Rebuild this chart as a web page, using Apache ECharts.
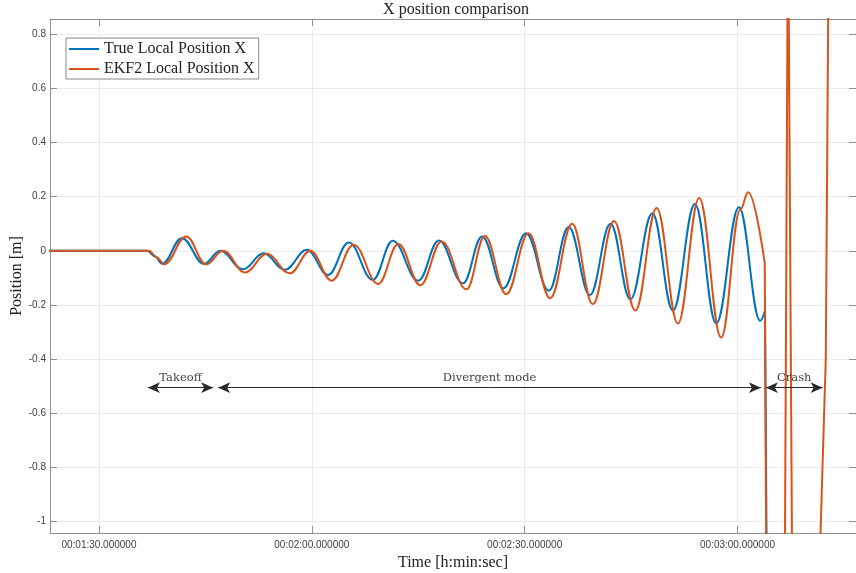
<!DOCTYPE html>
<html><head><meta charset="utf-8">
<script src="https://cdn.jsdelivr.net/npm/echarts@6/dist/echarts.min.js"></script>
<style>html,body{margin:0;padding:0;background:#fff}#c{width:856px;height:573px}</style>
</head><body><div id="c"></div>
<script>
// ---- data (time in seconds, position in m) ----
const xTicks = [90, 120, 150, 180];
const yTicks = [-1, -0.8, -0.6, -0.4, -0.2, 0, 0.2, 0.4, 0.6, 0.8];

const trueT = [83, 96.8, 97.9, 98.9, 101.7, 104.8, 107.1, 110.3, 113.2, 116.2, 119.3, 122.3, 125.2, 128.6, 131.4, 135.0, 137.9, 141.3, 144.0, 147.0, 150.2, 153.4, 156.2, 159.2, 162.1, 164.9, 168.0, 170.9, 174.0, 177.0, 180.2, 183.2, 183.87];
const trueX = [0, 0, -0.02, -0.048, 0.047, -0.048, 0.0, -0.068, -0.009, -0.07, 0.004, -0.089, 0.031, -0.107, 0.037, -0.11, 0.038, -0.12, 0.053, -0.138, 0.065, -0.147, 0.088, -0.163, 0.1, -0.179, 0.139, -0.22, 0.173, -0.268, 0.161, -0.258, -0.22];
const trueCrashT = [183.87, 184.15];
const trueCrashX = [-0.22, -1.3];

const ekfT = [83, 97.05, 98.2, 99.2, 102.3, 105.1, 107.5, 110.6, 113.65, 116.9, 119.8, 122.8, 125.9, 129.35, 132.2, 135.3, 138.3, 141.8, 144.4, 147.4, 150.55, 153.6, 156.7, 159.6, 162.6, 165.6, 168.6, 171.6, 174.6, 177.7, 180.4, 181.5, 183.84];
const ekfX = [0, 0, -0.025, -0.05, 0.053, -0.05, 0.0, -0.08, -0.011, -0.083, 0.0, -0.11, 0.023, -0.122, 0.025, -0.127, 0.035, -0.142, 0.055, -0.16, 0.065, -0.175, 0.1, -0.197, 0.11, -0.22, 0.158, -0.268, 0.195, -0.32, 0.152, 0.216, -0.045];
const ekfCrashT = [183.84, 184.08, 186.65, 187.12, 187.4, 187.73, 191.4, 192.44, 192.78, 192.9, 197];
const ekfCrashX = [-0.045, -1.3, -1.3, 1.3, 1.3, -1.3, -1.3, -0.4, 0.856, 1.3, 1.3];

const phaseNames = ['Takeoff', 'Divergent mode', 'Crash'];
const phaseStart = [96.9, 106.8, 184.0];
const phaseEnd = [106.1, 183.3, 192.0];
const phaseLevel = -0.505;

// ---- helpers ----
const zip = (a, b) => a.map((v, i) => [v, b[i]]);
const pad = n => String(n).padStart(2, '0');
function fmtTime(v) {
  const s = Math.round(v);
  return pad(Math.floor(s / 3600)) + ':' + pad(Math.floor((s % 3600) / 60)) + ':' + pad(s % 60) + '.000000';
}
const fmtY = v => String(Number(v.toFixed(2)));

const BLUE = '#0072BD', ORANGE = '#D95319';
const AX = '#8f8f8f';
const SERIF = '"Liberation Serif", "Times New Roman", serif';
const SANS = '"Liberation Sans", Arial, sans-serif';

const xMin = 83.1, xMax = 196.7, yMin = -1.0416, yMax = 0.856;

const chart = echarts.init(document.getElementById('c'), null, {renderer: 'canvas'});
chart.setOption({
  animation: false,
  backgroundColor: '#fff',
  grid: {left: 50, top: 19, right: 0, bottom: 40, containLabel: false, outerBoundsMode: 'none'},
  graphic: [
    {type: 'text', x: 456, y: 10, style: {text: 'X position comparison', font: '16px ' + SERIF, fill: '#222', textAlign: 'center', textVerticalAlign: 'middle'}}
  ],
  legend: {
    data: ['True Local Position X', 'EKF2 Local Position X'],
    orient: 'vertical', left: 66, top: 38,
    icon: 'rect', itemWidth: 30, itemHeight: 2, itemGap: 4, itemTextGap: 4,
    padding: [3, 4, 2, 3],
    backgroundColor: '#fff', borderColor: '#8a8a8a', borderWidth: 1,
    textStyle: {fontFamily: SERIF, fontSize: 16, color: '#222'}
  },
  xAxis: [{
    type: 'value', min: xMin, max: xMax,
    name: 'Time [h:min:sec]', nameLocation: 'middle', nameGap: 20,
    nameTextStyle: {fontFamily: SERIF, fontSize: 16, color: '#222'},
    axisLine: {show: true, onZero: false, lineStyle: {color: AX, width: 1}},
    axisTick: {show: true, inside: true, length: 7, customValues: xTicks, lineStyle: {color: AX}},
    axisLabel: {show: true, customValues: xTicks, formatter: fmtTime, fontFamily: SANS, fontSize: 10, color: '#404040', margin: 7},
    splitLine: {show: true, lineStyle: {color: '#ececec', width: 1}}
  }, {
    type: 'value', min: xMin, max: xMax, position: 'top',
    axisLine: {show: true, onZero: false, lineStyle: {color: AX, width: 1}},
    axisTick: {show: true, inside: true, length: 7, customValues: xTicks, lineStyle: {color: AX}},
    axisLabel: {show: false}, splitLine: {show: false}
  }],
  yAxis: [{
    type: 'value', min: yMin, max: yMax,
    name: 'Position [m]', nameLocation: 'middle', nameGap: 25, nameMoveOverlap: false,
    nameTextStyle: {fontFamily: SERIF, fontSize: 16, color: '#222'},
    axisLine: {show: true, onZero: false, lineStyle: {color: AX, width: 1}},
    axisTick: {show: true, inside: true, length: 7, customValues: yTicks, lineStyle: {color: AX}},
    axisLabel: {show: true, customValues: yTicks, formatter: fmtY, fontFamily: SANS, fontSize: 10, color: '#404040', margin: 4},
    splitLine: {show: true, lineStyle: {color: '#ececec', width: 1}}
  }, {
    type: 'value', min: yMin, max: yMax, position: 'right',
    axisLine: {show: true, onZero: false, lineStyle: {color: AX, width: 1}},
    axisTick: {show: true, inside: true, length: 7, customValues: yTicks, lineStyle: {color: AX}},
    axisLabel: {show: false}, splitLine: {show: false}
  }],
  series: [
    {
      name: 'True Local Position X', type: 'line', data: zip(trueT, trueX),
      smooth: 0.4, smoothMonotone: 'x', showSymbol: false, symbol: 'none',
      lineStyle: {color: BLUE, width: 2}, itemStyle: {color: BLUE}, z: 2,
      markLine: {
        silent: true, symbol: ['arrow', 'arrow'], symbolSize: [8, 12],
        lineStyle: {color: '#2a2a2a', width: 1, type: 'solid'},
        label: {show: true, position: 'middle', formatter: '{b}', fontFamily: '"DejaVu Serif", serif', fontSize: 11.5, color: '#444', distance: 4},
        data: phaseNames.map((n, i) => [{name: n, coord: [phaseStart[i], phaseLevel]}, {coord: [phaseEnd[i], phaseLevel]}])
      }
    },
    {
      name: 'True Local Position X', type: 'line', data: zip(trueCrashT, trueCrashX),
      smooth: false, showSymbol: false, symbol: 'none',
      lineStyle: {color: BLUE, width: 2}, itemStyle: {color: BLUE}, z: 2
    },
    {
      name: 'EKF2 Local Position X', type: 'line', data: zip(ekfT, ekfX),
      smooth: 0.4, smoothMonotone: 'x', showSymbol: false, symbol: 'none',
      lineStyle: {color: ORANGE, width: 2}, itemStyle: {color: ORANGE}, z: 3
    },
    {
      name: 'EKF2 Local Position X', type: 'line', data: zip(ekfCrashT, ekfCrashX),
      smooth: false, showSymbol: false, symbol: 'none',
      lineStyle: {color: ORANGE, width: 2}, itemStyle: {color: ORANGE}, z: 3
    }
  ]
});
</script></body></html>
